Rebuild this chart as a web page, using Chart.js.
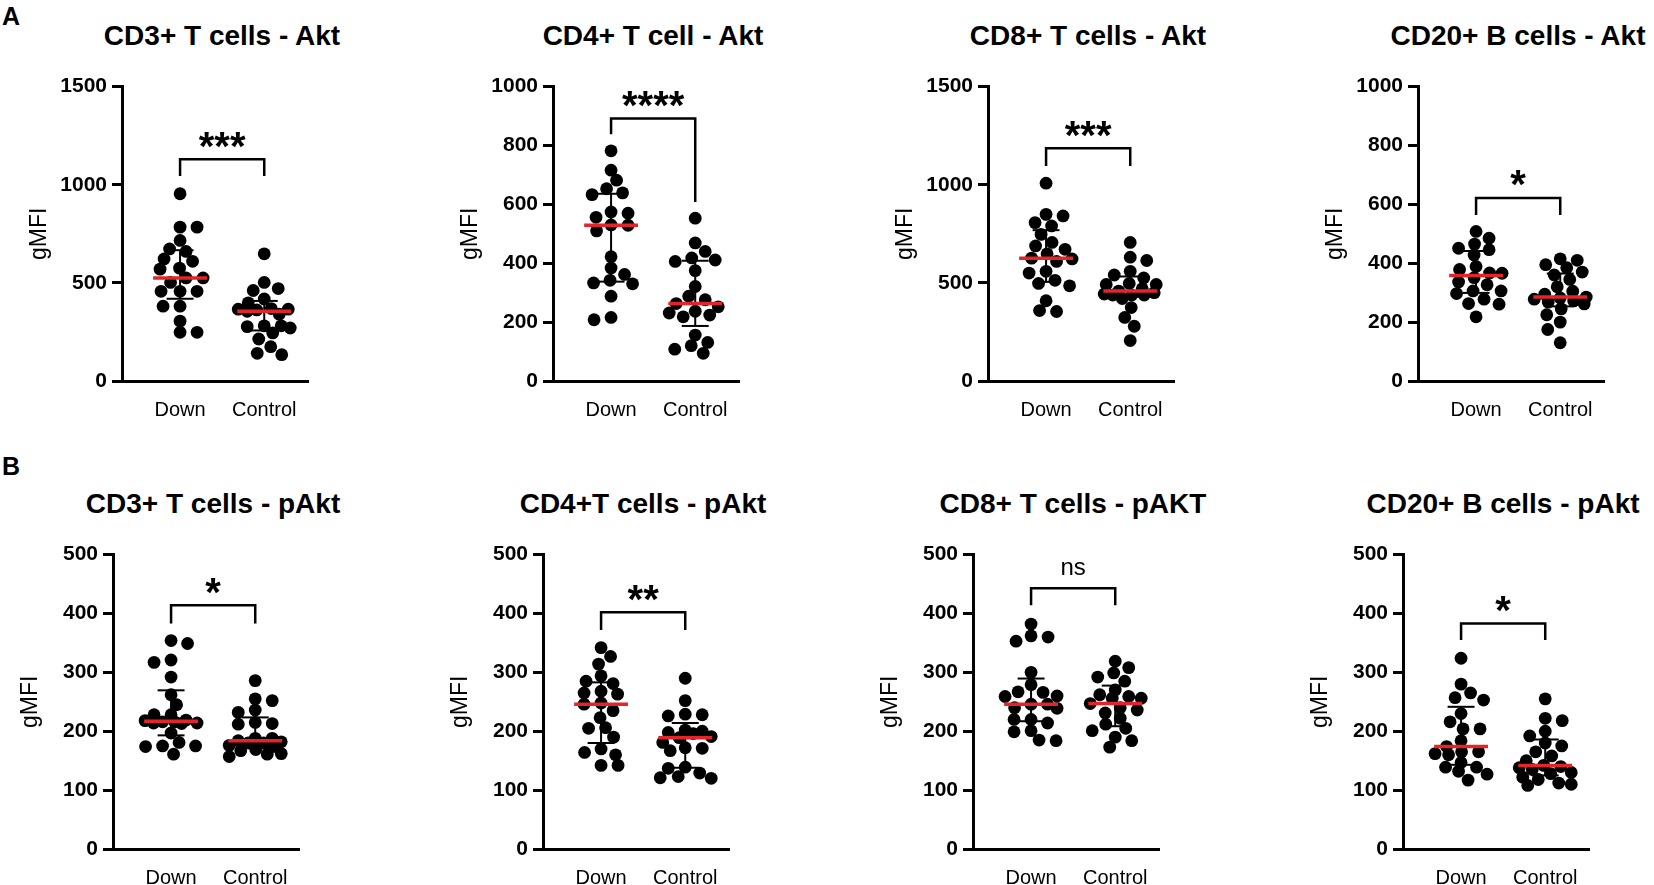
<!DOCTYPE html>
<html><head><meta charset="utf-8">
<script src="https://cdn.jsdelivr.net/npm/chart.js@4.4.1/dist/chart.umd.min.js"></script>
<style>
html,body{margin:0;padding:0;background:#fff;width:1654px;height:885px;overflow:hidden;position:relative;}
.title{position:absolute;font-family:'Liberation Sans',Arial,Helvetica,sans-serif;font-weight:bold;font-size:28px;line-height:1;color:#000;white-space:nowrap;transform:translate(-50%,-50%);}
.tag{position:absolute;font-family:'Liberation Sans',Arial,Helvetica,sans-serif;font-weight:bold;font-size:25px;line-height:1;color:#000;transform:translateY(-50%);}
canvas{position:absolute;}
</style></head><body>
<div class="tag" style="left:2px;top:16px;">A</div>
<div class="tag" style="left:2px;top:466px;">B</div>
<script>
// ---------- data ----------
const categories = ['Down', 'Control'];
const panelTitles = ['CD3+ T cells - Akt', 'CD4+ T cell - Akt', 'CD8+ T cells - Akt', 'CD20+ B cells - Akt',
  'CD3+ T cells - pAkt', 'CD4+T cells - pAkt', 'CD8+ T cells - pAKT', 'CD20+ B cells - pAkt'];
const yTicks = [
  [0, 500, 1000, 1500], [0, 200, 400, 600, 800, 1000], [0, 500, 1000, 1500], [0, 200, 400, 600, 800, 1000],
  [0, 100, 200, 300, 400, 500], [0, 100, 200, 300, 400, 500], [0, 100, 200, 300, 400, 500], [0, 100, 200, 300, 400, 500]];
const sigLabels = ['***', '****', '***', '*', '*', '**', 'ns', '*'];
const bracketLevel = [1130, 892, 1186, 622, 414, 402, 443, 383];
const bracketLegDown = [1044, 838, 1095, 564, 383, 372, 414, 355];
const bracketLegControl = [1044, 608, 1095, 564, 383, 372, 414, 355];

const cd3AktDown = [954,784,784,716,673,660,622,610,575,570,525,525,502,457,457,457,381,381,305,248,248];
const cd3AktControl = [648,502,471,461,418,398,369,366,366,362,355,340,281,281,277,270,245,214,175,141,134];
const cd4AktDown = [782,716,682,653,639,633,574,570,556,530,529,510,422,384,362,342,333,330,288,216,208];
const cd4AktControl = [553,469,440,418,411,406,375,321,288,276,263,252,237,231,224,218,156,131,120,108,94];
const cd8AktDown = [1008,849,841,807,790,747,706,688,671,648,626,622,609,559,550,513,497,485,409,359,354];
const cd8AktControl = [706,631,614,559,540,525,497,492,492,470,458,450,443,438,438,438,420,374,324,279,206];
const cd20AktDown = [508,485,465,451,446,428,389,379,367,366,351,336,327,306,306,297,278,263,261,218];
const cd20AktControl = [415,410,395,385,370,360,345,320,305,295,285,282,278,272,268,262,245,225,200,175,130];
const cd3pAktDown = [354,349,321,317,292,262,245,228,228,219,218,216,216,214,214,213,197,181,175,175,174,161];
const cd3pAktControl = [286,255,252,236,232,215,213,212,188,188,184,182,180,180,176,174,169,167,162,161,157];
const cd4pAktDown = [342,327,314,294,285,281,268,265,263,248,246,235,223,206,205,190,170,164,160,142,142];
const cd4pAktControl = [290,252,229,228,226,202,200,198,196,191,189,181,172,171,167,139,137,129,123,121,120];
const cd8pAktDown = [382,362,360,353,300,279,267,266,260,259,246,246,240,239,220,220,214,201,199,185,184];
const cd8pAktControl = [319,308,299,292,285,270,262,259,256,256,247,240,236,231,222,212,205,201,190,184,173];
const cd20pAktDown = [324,280,265,257,253,230,216,204,204,184,174,165,165,162,160,147,139,139,132,127,117];
const cd20pAktControl = [255,222,218,200,192,180,175,165,158,150,142,140,138,135,130,128,122,118,112,110,108];

const downValues = [cd3AktDown, cd4AktDown, cd8AktDown, cd20AktDown, cd3pAktDown, cd4pAktDown, cd8pAktDown, cd20pAktDown];
const controlValues = [cd3AktControl, cd4AktControl, cd8AktControl, cd20AktControl, cd3pAktControl, cd4pAktControl, cd8pAktControl, cd20pAktControl];

// ---------- layout ----------
const FONT = "'Liberation Sans', Arial, Helvetica, sans-serif";
const ROW_TOP = [85, 553];
const AXIS_X = [[122, 553, 988, 1418], [113, 543, 973, 1403]];
const Y_SCALE_W = 100, X_SCALE_H = 44, PAD_TOP = 16, PAD_RIGHT = 30, AREA_H = 296, AREA_W = 186;
const X_MIN = 0.31, X_MAX = 2.52;
const RED = '#e3242b';

function quantile(asc, p) {
  const n = asc.length;
  let pos = p * (n + 1);
  if (pos < 1) pos = 1;
  if (pos > n) pos = n;
  const lo = Math.floor(pos), hi = Math.ceil(pos);
  return asc[lo - 1] + (pos - lo) * (asc[hi - 1] - asc[lo - 1]);
}

function seg(points, color, width, order) {
  return { type: 'scatter', data: points, showLine: true, borderColor: color, borderWidth: width,
    pointRadius: 0, pointHoverRadius: 0, fill: false, tension: 0, order: order, clip: false,
    borderCapStyle: 'butt', borderJoinStyle: 'miter' };
}

// beeswarm-like horizontal spreading computed from the scales
function spread(chart, groups) {
  const xs = chart.scales.x, ys = chart.scales.y;
  const ppu = xs.getPixelForValue(2) - xs.getPixelForValue(1);
  const SX = 17, SY = 10.5, W = 26;
  const out = [];
  groups.forEach((vals, g) => {
    const idx = vals.map((v, i) => i).sort((a, b) => vals[b] - vals[a]);
    const placed = [];
    let bal = 0;
    const offs = new Array(vals.length).fill(0);
    for (const i of idx) {
      const py = ys.getPixelForValue(vals[i]);
      const cands = [0];
      for (let d = 0.5; d <= W; d += 0.5) {
        if (bal > 0) cands.push(-d, d); else cands.push(d, -d);
      }
      let best = null;
      for (const c of cands) {
        let ok = true;
        for (const p of placed) {
          const dx = (c - p.x) / SX, dy = (py - p.y) / SY;
          if (dx * dx + dy * dy < 1) { ok = false; break; }
        }
        if (ok) { best = c; break; }
      }
      if (best === null) {
        let bm = -1;
        for (const c of cands) {
          let m = Infinity;
          for (const p of placed) {
            const dx = (c - p.x) / SX, dy = (py - p.y) / SY;
            m = Math.min(m, dx * dx + dy * dy);
          }
          if (m > bm + 1e-9) { bm = m; best = c; }
        }
      }
      placed.push({ x: best, y: py });
      bal += best;
      offs[i] = best;
    }
    vals.forEach((v, i) => out.push({ x: g + 1 + offs[i] / ppu, y: v }));
  });
  return out;
}

for (let i = 0; i < 8; i++) {
  const r = Math.floor(i / 4), c = i % 4;
  const ax = AXIS_X[r][c], top = ROW_TOP[r];
  const W = Y_SCALE_W + AREA_W + PAD_RIGHT, H = PAD_TOP + AREA_H + X_SCALE_H;
  const cv = document.createElement('canvas');
  cv.width = W; cv.height = H;
  cv.style.left = (ax - Y_SCALE_W) + 'px';
  cv.style.top = (top - PAD_TOP) + 'px';
  cv.style.width = W + 'px'; cv.style.height = H + 'px';
  document.body.appendChild(cv);

  const t = document.createElement('div');
  t.className = 'title';
  t.textContent = panelTitles[i];
  t.style.left = (ax + 100) + 'px';
  t.style.top = (top - 49) + 'px';
  document.body.appendChild(t);

  const groups = [downValues[i], controlValues[i]];
  const datasets = [];
  datasets.push({ type: 'scatter', data: groups.flatMap((vals, g) => vals.map(v => ({ x: g + 1, y: v }))),
    pointRadius: 6.4, pointHoverRadius: 6.4, pointBackgroundColor: '#000', pointBorderColor: '#000',
    pointBorderWidth: 0, showLine: false, order: 1, clip: false });
  groups.forEach((vals, g) => {
    const asc = vals.slice().sort((a, b) => a - b);
    const med = quantile(asc, 0.5), q1 = quantile(asc, 0.25), q3 = quantile(asc, 0.75);
    const cx = g + 1;
    datasets.push(seg([{ x: cx - 0.16, y: q3 }, { x: cx + 0.16, y: q3 }], '#000', 2, 2));
    datasets.push(seg([{ x: cx, y: q3 }, { x: cx, y: q1 }], '#000', 2, 2));
    datasets.push(seg([{ x: cx - 0.16, y: q1 }, { x: cx + 0.16, y: q1 }], '#000', 2, 2));
    datasets.push(seg([{ x: cx - 0.32, y: med }, { x: cx + 0.32, y: med }], RED, 3.5, 0));
  });
  datasets.push(seg([{ x: 1, y: bracketLegDown[i] }, { x: 1, y: bracketLevel[i] },
    { x: 2, y: bracketLevel[i] }, { x: 2, y: bracketLegControl[i] }], '#000', 2.5, 3));

  const ticks = yTicks[i];
  const label = sigLabels[i], level = bracketLevel[i];
  const chart = new Chart(cv.getContext('2d'), {
    type: 'scatter',
    data: { datasets },
    options: {
      responsive: false, animation: false, events: [],
      layout: { padding: { top: PAD_TOP, right: PAD_RIGHT, bottom: 0, left: 0 } },
      plugins: { legend: { display: false }, title: { display: false }, tooltip: { enabled: false } },
      scales: {
        x: {
          type: 'linear', min: X_MIN, max: X_MAX,
          afterBuildTicks: s => { s.ticks = [{ value: 1 }, { value: 2 }]; },
          afterFit: s => { s.height = X_SCALE_H; },
          grid: { display: true, drawOnChartArea: false, drawTicks: false },
          border: { display: true, color: '#000', width: 3 },
          ticks: { padding: 17, color: '#000', font: { family: FONT, size: 20 }, maxRotation: 0, autoSkip: false,
            callback: v => categories[Math.round(v) - 1] || '' }
        },
        y: {
          type: 'linear', min: ticks[0], max: ticks[ticks.length - 1],
          afterBuildTicks: s => { s.ticks = ticks.map(v => ({ value: v })); },
          afterFit: s => { s.width = Y_SCALE_W; },
          grid: { display: true, drawOnChartArea: false, drawTicks: true, tickLength: 10, color: '#000', lineWidth: 3 },
          border: { display: true, color: '#000', width: 3 },
          ticks: { padding: 5, color: '#000', font: { family: FONT, size: 21, weight: 'bold' }, callback: v => String(v) },
          title: { display: true, text: 'gMFI', color: '#000', font: { family: FONT, size: 23 }, padding: { top: 4, bottom: 0 } }
        }
      }
    },
    plugins: [{
      id: 'sig',
      afterDatasetsDraw(ch) {
        const ctx = ch.ctx, xs = ch.scales.x, ys = ch.scales.y;
        const x = xs.getPixelForValue(1.5);
        const yc = ys.getPixelForValue(level) - 19.5;
        ctx.save();
        ctx.fillStyle = '#000';
        ctx.font = label === 'ns' ? `24px ${FONT}` : `bold 40px ${FONT}`;
        ctx.textAlign = 'center';
        ctx.textBaseline = 'alphabetic';
        const m = ctx.measureText(label);
        const y = yc + (m.actualBoundingBoxAscent - m.actualBoundingBoxDescent) / 2;
        ctx.fillText(label, x, y);
        ctx.restore();
      }
    }]
  });
  chart.data.datasets[0].data = spread(chart, groups);
  chart.update('none');
}
</script>
</body></html>
